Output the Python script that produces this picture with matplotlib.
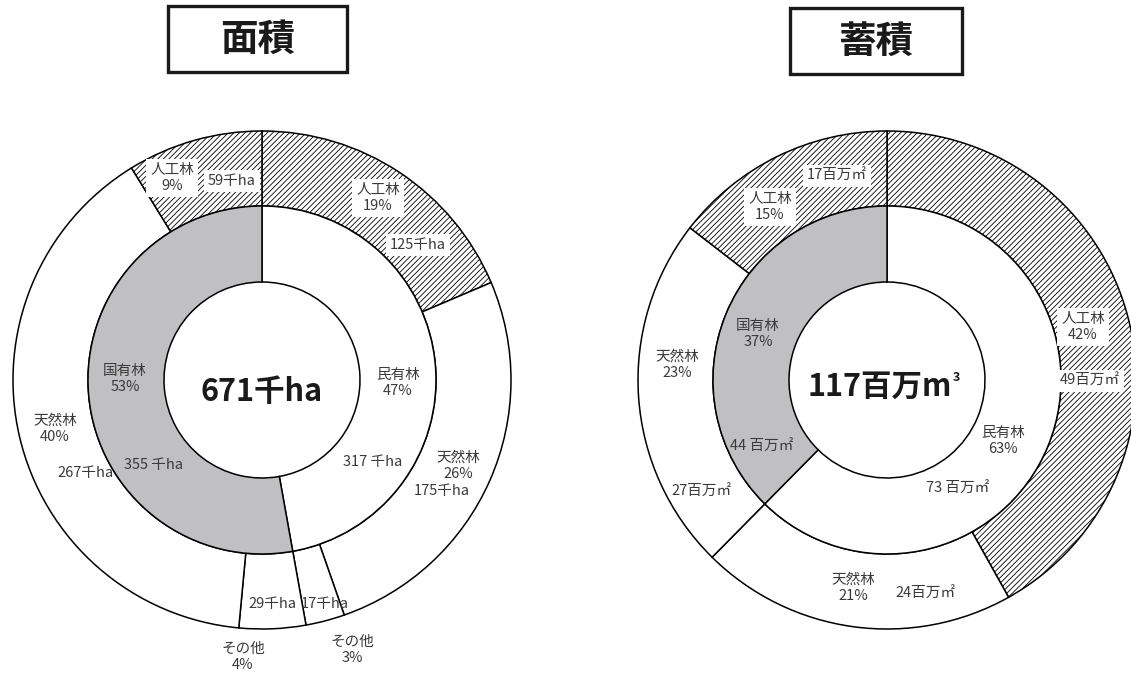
import matplotlib
matplotlib.use("Agg")
import matplotlib.pyplot as plt
from matplotlib.patches import Rectangle

plt.rcParams['font.family'] = ['Noto Sans CJK JP', 'DejaVu Sans']
plt.rcParams['hatch.linewidth'] = 0.6

# 面積 (千ha)
area_inner_names = ['民有林', '国有林']
area_inner = [317, 355]
area_inner_pct = [47, 53]
area_outer_names = ['人工林', '天然林', 'その他', 'その他', '天然林', '人工林']
area_outer = [125, 175, 17, 29, 267, 59]
area_outer_pct = [19, 26, 3, 4, 40, 9]
area_total = 671

# 蓄積 (百万m3)
vol_inner_names = ['民有林', '国有林']
vol_inner = [73, 44]
vol_inner_pct = [63, 37]
vol_outer_names = ['人工林', '天然林', '天然林', '人工林']
vol_outer = [49, 24, 27, 17]
vol_outer_pct = [42, 21, 23, 15]
vol_total = 117

W, H = 1131, 677
R_OUT, R_MID, R_HOLE = 249, 174, 98
GRAY = '#c0c0c2'
TXT = '#3a3a3a'

fig = plt.figure(figsize=(W / 100, H / 100), dpi=100)
ax = fig.add_axes([0, 0, 1, 1])


def donut(cx, cy, inner, outer, hatched):
    c = (cx, H - cy)
    w_out, _ = ax.pie(outer, radius=R_OUT, center=c, startangle=90, counterclock=False,
                      colors=['white'] * len(outer),
                      wedgeprops=dict(width=R_OUT - R_MID, edgecolor='black', linewidth=1.1))
    for i in hatched:
        w_out[i].set_hatch('//////')
    ax.pie(inner, radius=R_MID, center=c, startangle=90, counterclock=False,
           colors=['white', GRAY],
           wedgeprops=dict(width=R_MID - R_HOLE, edgecolor='black', linewidth=1.1))


def lab(x, y, s, box=False, size=10.5):
    kw = {}
    if box:
        kw['bbox'] = dict(boxstyle='square,pad=0.25', facecolor='white', edgecolor='none')
    ax.text(x, H - y, s, ha='center', va='center', fontsize=size, color=TXT,
            linespacing=1.2, **kw)


def title(x0, y0, x1, y1, s):
    ax.add_patch(Rectangle((x0, H - y1), x1 - x0, y1 - y0, facecolor='white',
                           edgecolor='#1a1a1a', linewidth=2.4, zorder=3))
    ax.text((x0 + x1) / 2, H - (y0 + y1) / 2, s, ha='center', va='center',
            fontsize=27, fontweight='bold', color='#1a1a1a', zorder=4)


# left: 面積
donut(262, 380, area_inner, area_outer, hatched=[0, 5])
title(168, 6, 347, 72, '面積')
ax.text(262, H - 392, f'{area_total}千ha', ha='center', va='center',
        fontsize=22, fontweight='bold', color='#1a1a1a')

n, p, v = area_outer_names, area_outer_pct, area_outer
lab(172, 178, f'{n[5]}\n{p[5]}%', box=True)
lab(232, 181, f'{v[5]}千ha', box=True)
lab(378, 198, f'{n[0]}\n{p[0]}%', box=True)
lab(418, 245, f'{v[0]}千ha', box=True)
lab(458, 466, f'{n[1]}\n{p[1]}%')
lab(442, 491, f'{v[1]}千ha')
lab(325, 604, f'{v[2]}千ha')
lab(352, 650, f'{n[2]}\n{p[2]}%')
lab(272, 604, f'{v[3]}千ha')
lab(243, 657, f'{n[3]}\n{p[3]}%')
lab(55, 429, f'{n[4]}\n{p[4]}%')
lab(85, 473, f'{v[4]}千ha')

lab(398, 383, f'{area_inner_names[0]}\n{area_inner_pct[0]}%')
lab(373, 462, f'{area_inner[0]} 千ha')
lab(125, 379, f'{area_inner_names[1]}\n{area_inner_pct[1]}%')
lab(153, 465, f'{area_inner[1]} 千ha')

# right: 蓄積
donut(887, 380, vol_inner, vol_outer, hatched=[0, 3])
title(790, 8, 962, 74, '蓄積')
t = ax.text(880, H - 387, f'{vol_total}百万m', ha='center', va='center',
            fontsize=22, fontweight='bold', color='#1a1a1a')

n, p, v = vol_outer_names, vol_outer_pct, vol_outer
lab(1083, 327, f'{n[0]}\n{p[0]}%', box=True)
lab(1090, 381, f'{v[0]}百万㎡', box=True)
lab(853, 588, f'{n[1]}\n{p[1]}%')
lab(925, 594, f'{v[1]}百万㎡')
lab(677, 365, f'{n[2]}\n{p[2]}%')
lab(702, 492, f'{v[2]}百万㎡')
lab(770, 207, f'{n[3]}\n{p[3]}%', box=True)
lab(837, 176, f'{v[3]}百万㎡', box=True)

lab(1003, 441, f'{vol_inner_names[0]}\n{vol_inner_pct[0]}%')
lab(958, 489, f'{vol_inner[0]} 百万㎡')
lab(758, 334, f'{vol_inner_names[1]}\n{vol_inner_pct[1]}%')
lab(762, 447, f'{vol_inner[1]} 百万㎡')

ax.set_xlim(0, W)
ax.set_ylim(0, H)
ax.set_aspect('auto')
ax.axis('off')

# small superscript 3 after the centre unit
fig.canvas.draw()
bb = t.get_window_extent()
ax.text(bb.x1 + 1, bb.y1, '3', ha='left', va='top', fontsize=9,
        fontweight='bold', color='#1a1a1a')

fig.savefig('out.png', dpi=100, facecolor='white')
